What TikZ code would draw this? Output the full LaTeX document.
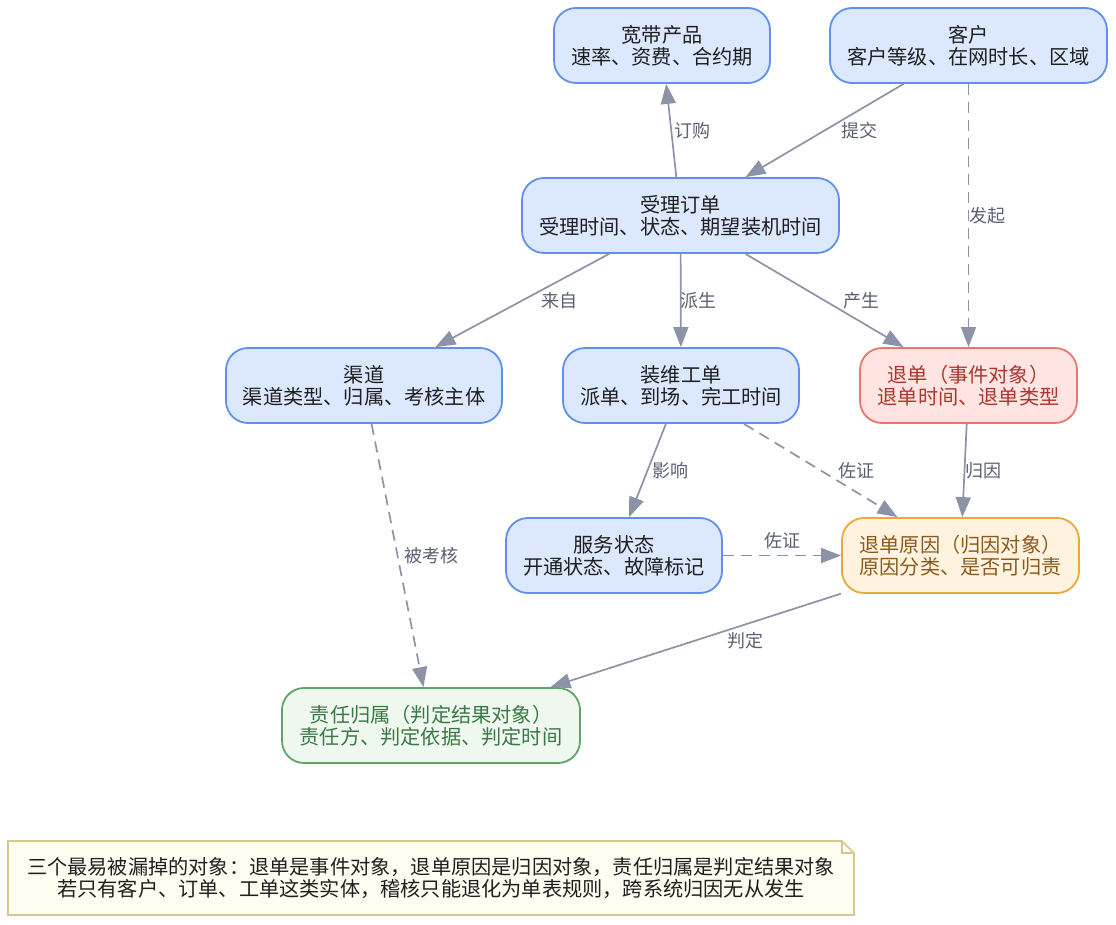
\documentclass[tikz,border=0pt]{standalone}
\usepackage{fontspec}
\setmainfont{Noto Sans CJK SC}
\usetikzlibrary{arrows.meta}
\definecolor{bdr}{RGB}{95,145,235}
\definecolor{bfill}{RGB}{220,232,254}
\definecolor{rdr}{RGB}{232,120,110}
\definecolor{rfill}{RGB}{255,228,225}
\definecolor{rtext}{RGB}{170,55,45}
\definecolor{odr}{RGB}{232,168,60}
\definecolor{ofill}{RGB}{255,243,224}
\definecolor{otext}{RGB}{140,90,30}
\definecolor{gdr}{RGB}{95,165,105}
\definecolor{gfill}{RGB}{238,248,238}
\definecolor{gtext}{RGB}{60,120,70}
\definecolor{ndr}{RGB}{215,200,140}
\definecolor{nfill}{RGB}{255,253,240}
\definecolor{edgec}{RGB}{140,147,166}
\definecolor{lblc}{RGB}{90,96,112}
\begin{document}
\begin{tikzpicture}[x=1pt,y=-1pt,
  box/.style={rectangle, rounded corners=22pt, line width=1.8pt, align=center,
    font=\fontsize{20.2}{22}\selectfont, inner sep=0pt, minimum height=75pt},
  bluebox/.style={box, draw=bdr, fill=bfill, text=black!88},
  redbox/.style={box, draw=rdr, fill=rfill, text=rtext},
  orangebox/.style={box, draw=odr, fill=ofill, text=otext},
  greenbox/.style={box, draw=gdr, fill=gfill, text=gtext},
  conn/.style={draw=edgec, line width=1.7pt, -{Triangle[length=20pt,width=15pt]}},
  dconn/.style={conn, dash pattern=on 11pt off 7pt},
  lbl/.style={font=\fontsize{18}{20}\selectfont, text=lblc, inner sep=1pt}
]
\useasboundingbox (0,0) rectangle (1116,925);

\node[bluebox, minimum width=216pt] (product) at (662,45.5) {宽带产品\\速率、资费、合约期};
\node[bluebox, minimum width=277pt] (customer) at (968.5,45.5) {客户\\客户等级、在网时长、区域};
\node[bluebox, minimum width=317pt] (order) at (680.5,215.5) {受理订单\\受理时间、状态、期望装机时间};
\node[bluebox, minimum width=276pt] (channel) at (364,385.5) {渠道\\渠道类型、归属、考核主体};
\node[bluebox, minimum width=236pt] (work) at (681,385.5) {装维工单\\派单、到场、完工时间};
\node[redbox, minimum width=217pt] (cancel) at (968.5,385.5) {退单（事件对象）\\退单时间、退单类型};
\node[bluebox, minimum width=216pt] (service) at (614,555.5) {服务状态\\开通状态、故障标记};
\node[orangebox, minimum width=237pt] (reason) at (960.5,555.5) {退单原因（归因对象）\\原因分类、是否可归责};
\node[greenbox, minimum width=298pt] (resp) at (431,725.5) {责任归属（判定结果对象）\\责任方、判定依据、判定时间};

% note: outline with folded corner, then text
\coordinate (nw) at (8,841);
\coordinate (se) at (854,915);
\filldraw[draw=ndr, fill=nfill, line width=1.6pt, line join=miter]
  (nw) -- (842,841) -- (854,853) -- (se) -- (8,915) -- cycle;
\draw[draw=ndr, line width=1.6pt] (842,841) -- (842,853) -- (854,853);
\node[align=center, font=\fontsize{20.2}{22}\selectfont, text=black!88, inner sep=0pt] (note) at (431,878) {三个最易被漏掉的对象：退单是事件对象，退单原因是归因对象，责任归属是判定结果对象\\若只有客户、订单、工单这类实体，稽核只能退化为单表规则，跨系统归因无从发生};

% edges
\draw[conn] (order) -- node[lbl, xshift=21pt] {订购} (product);
\draw[conn] (customer) -- node[lbl, xshift=35pt] {提交} (order);
\draw[dconn] (customer) -- node[lbl, xshift=18.5pt] {发起} (cancel);
\draw[conn] (order) -- node[lbl, xshift=37pt] {来自} (channel);
\draw[conn] (order) -- node[lbl, xshift=18pt] {派生} (work);
\draw[conn] (order) -- node[lbl, xshift=37pt] {产生} (cancel);
\draw[dconn] (channel) -- node[lbl, xshift=34pt] {被考核} (resp);
\draw[conn] (work) -- node[lbl, xshift=23pt] {影响} (service);
\draw[dconn] (work) -- node[lbl, xshift=36pt] {佐证} (reason);
\draw[conn] (cancel) -- node[lbl, xshift=18.5pt] {归因} (reason);
\draw[dconn] (service) -- node[lbl, yshift=14.5pt] {佐证} (reason);
\draw[conn] (reason) -- node[lbl, xshift=50pt] {判定} (resp);
\end{tikzpicture}
\end{document}
